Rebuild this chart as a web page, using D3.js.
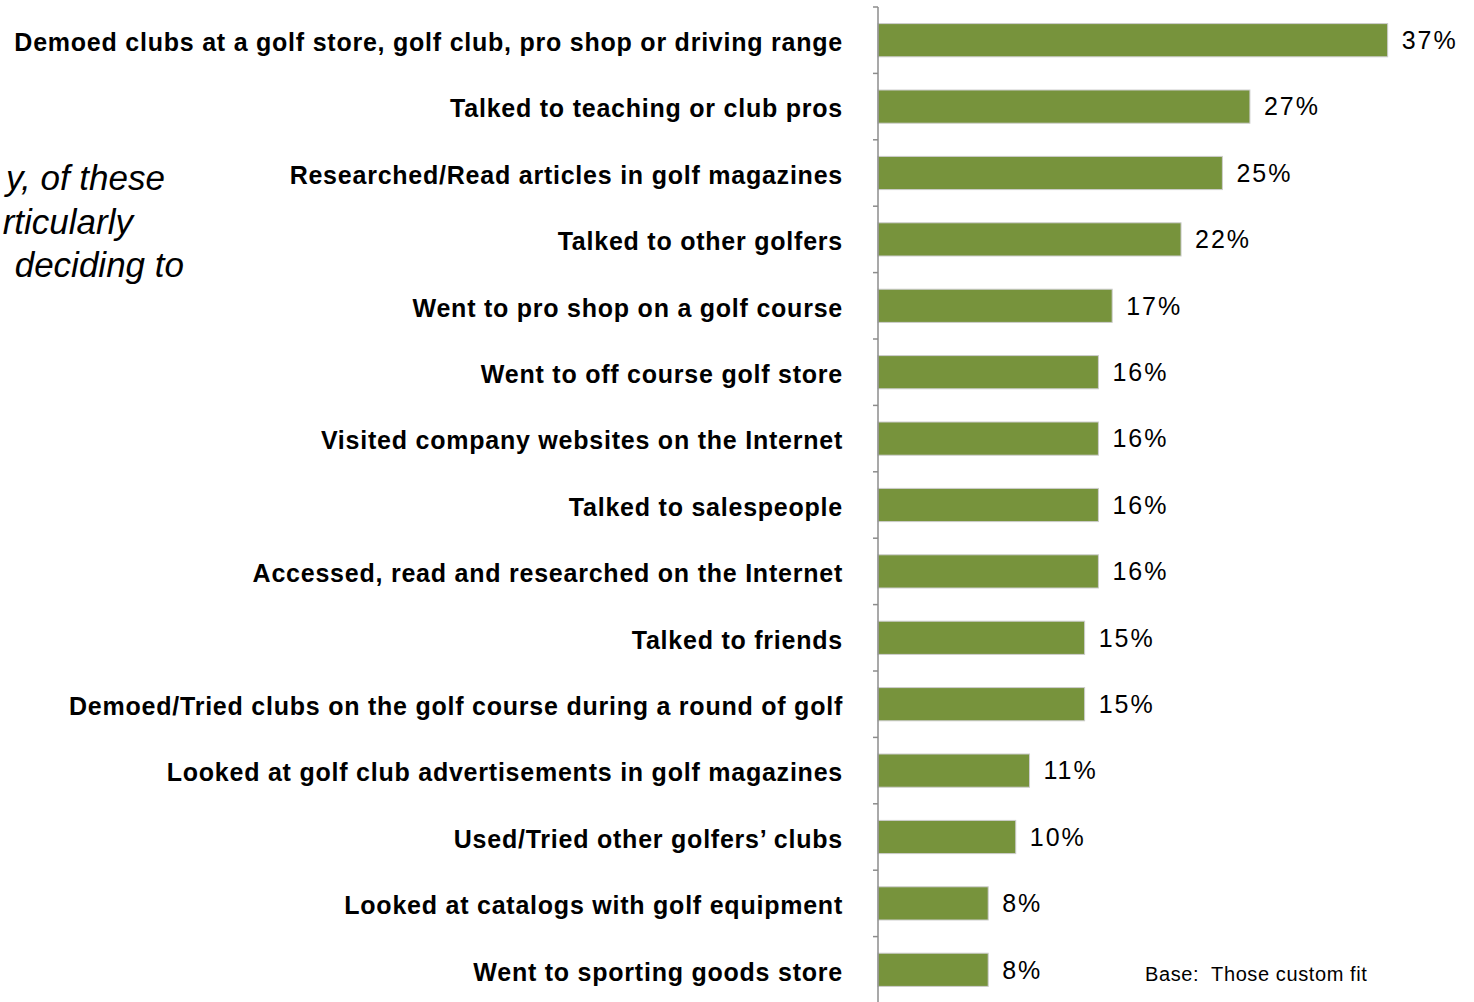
<!DOCTYPE html>
<html>
<head>
<meta charset="utf-8">
<script src="https://cdn.jsdelivr.net/npm/d3@7"></script>
<style>
  html, body { margin: 0; padding: 0; background: #fff; }
  svg { display: block; }
</style>
</head>
<body>
<svg id="chart" width="1474" height="1002"></svg>
<script>
// Sources consulted before buying custom-fit clubs
const categories = [
  "Demoed clubs at a golf store, golf club, pro shop or driving range",
  "Talked to teaching or club pros",
  "Researched/Read articles in golf magazines",
  "Talked to other golfers",
  "Went to pro shop on a golf course",
  "Went to off course golf store",
  "Visited company websites on the Internet",
  "Talked to salespeople",
  "Accessed, read and researched on the Internet",
  "Talked to friends",
  "Demoed/Tried clubs on the golf course during a round of golf",
  "Looked at golf club advertisements in golf magazines",
  "Used/Tried other golfers\u2019 clubs",
  "Looked at catalogs with golf equipment",
  "Went to sporting goods store"
];
const values = [37, 27, 25, 22, 17, 16, 16, 16, 16, 15, 15, 11, 10, 8, 8];

// Partially visible side note (its text box runs off the left edge)
const noteLines = ["y, of these", "rticularly", " deciding to"];
const noteRight = [165, 133, 184];
const baseNote = "Base:  Those custom fit";

const svg = d3.select("#chart");
const font = "Liberation Sans, Arial, sans-serif";

const axisX = 878;
const y = d3.scaleBand()
  .domain(categories)
  .range([7, 1003])
  .paddingInner(0.5)
  .paddingOuter(0.25);

const x = d3.scaleLinear()
  .domain([0, 40])
  .range([axisX, axisX + 551]);

// Bars
svg.append("g")
  .selectAll("rect")
  .data(categories)
  .join("rect")
  .attr("x", x(0))
  .attr("y", d => y(d))
  .attr("width", (d, i) => x(values[i]) - x(0))
  .attr("height", y.bandwidth())
  .attr("fill", "#77933C")
  .attr("stroke", "#cdcdcd")
  .attr("stroke-width", 1);

// Category axis with ticks between bands
const n = categories.length;
const tickPos = d3.range(n + 1).map(i => y.range()[0] + i * (y.range()[1] - y.range()[0]) / n);
const axisG = svg.append("g");
axisG.append("line")
  .attr("x1", axisX).attr("x2", axisX)
  .attr("y1", 7).attr("y2", 1002)
  .attr("stroke", "#8c8c8c").attr("stroke-width", 1.5);
axisG.selectAll("line.tick")
  .data(tickPos)
  .join("line")
  .attr("class", "tick")
  .attr("x1", axisX - 5).attr("x2", axisX)
  .attr("y1", d => d).attr("y2", d => d)
  .attr("stroke", "#8c8c8c").attr("stroke-width", 1.5);

// Category labels
svg.append("g")
  .selectAll("text")
  .data(categories)
  .join("text")
  .attr("x", 843)
  .attr("y", d => y(d) + y.bandwidth() / 2 + 2)
  .attr("dy", "0.35em")
  .attr("text-anchor", "end")
  .attr("font-family", font)
  .attr("font-weight", "bold")
  .attr("font-size", 25)
  .attr("letter-spacing", 0.77)
  .attr("fill", "#000")
  .text(d => d);

// Value labels
svg.append("g")
  .selectAll("text")
  .data(categories)
  .join("text")
  .attr("x", (d, i) => x(values[i]) + 14)
  .attr("y", d => y(d) + y.bandwidth() / 2)
  .attr("dy", "0.35em")
  .attr("font-family", font)
  .attr("font-size", 25)
  .attr("letter-spacing", 2)
  .attr("fill", "#000")
  .text((d, i) => values[i] + "%");

// Side note
svg.append("g")
  .selectAll("text")
  .data(noteLines)
  .join("text")
  .attr("x", (d, i) => noteRight[i])
  .attr("y", (d, i) => 190 + i * 43.5)
  .attr("text-anchor", "end")
  .attr("font-family", font)
  .attr("font-style", "italic")
  .attr("font-size", 35)
  .attr("fill", "#000")
  .attr("xml:space", "preserve")
  .text(d => d);

// Base note
svg.append("text")
  .attr("x", 1145)
  .attr("y", 981)
  .attr("font-family", font)
  .attr("font-size", 20)
  .attr("letter-spacing", 0.6)
  .attr("fill", "#000")
  .attr("xml:space", "preserve")
  .text(baseNote);
</script>
</body>
</html>
